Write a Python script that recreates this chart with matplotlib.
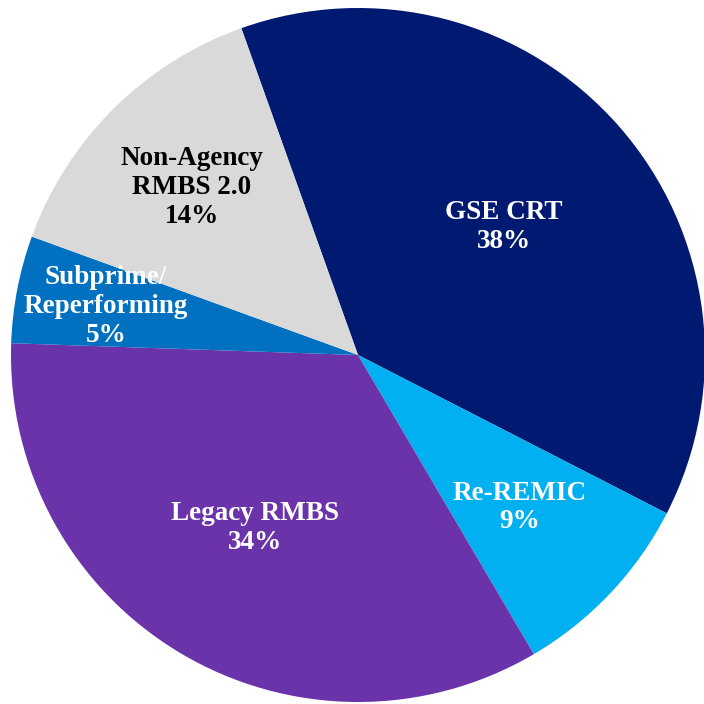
import numpy as np
import matplotlib.pyplot as plt

# slice data, clockwise from the top
labels = ['GSE CRT', 'Re-REMIC', 'Legacy RMBS', 'Subprime/\nReperforming', 'Non-Agency\nRMBS 2.0']
shares = [38, 9, 34, 5, 14]
colors = ['#001A72', '#00B0F0', '#6B33AA', '#0070C0', '#D9D9D9']
text_colors = ['white', 'white', 'white', 'white', 'black']
label_dist = [0.56, 0.64, 0.58, 0.74, 0.68]

plt.rcParams['font.family'] = ['Liberation Serif', 'DejaVu Serif']

fig = plt.figure(figsize=(7.04, 7.04), dpi=100)
ax = fig.add_axes([0, 0, 1, 1])

wedges, _ = ax.pie(shares, colors=colors, startangle=109.65, counterclock=False,
                   radius=1, wedgeprops=dict(linewidth=0))

for w, lab, pct, tc, d in zip(wedges, labels, shares, text_colors, label_dist):
    mid = np.deg2rad((w.theta1 + w.theta2) / 2)
    ax.text(d * np.cos(mid), d * np.sin(mid), '%s\n%d%%' % (lab, pct),
            ha='center', va='center', color=tc, fontsize=19.5, fontweight='bold',
            linespacing=1.2)

ax.set_xlim(-358 / 347, 346 / 347)
ax.set_ylim(-349 / 347, 355 / 347)
ax.set_aspect('auto')
ax.axis('off')

fig.savefig('out.png', dpi=100, facecolor='white')
